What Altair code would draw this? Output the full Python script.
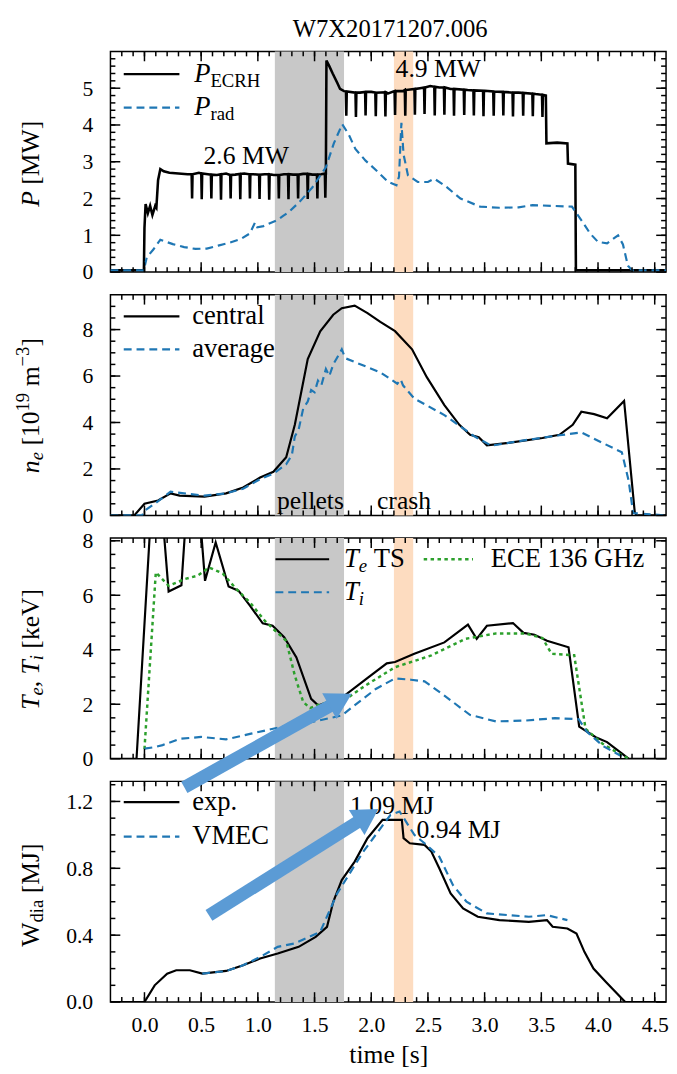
import altair as alt
import pandas as pd

FONT = "Liberation Serif"
W, H = 564, 224
X_DOMAIN = [-0.3, 4.6]
BLUE = "#1f77b4"
GREEN = "#2ca02c"
ARROW = "#5b9bd5"

shot_label = "W7X20171207.006"

# shaded intervals: pellets, crash
band_start = [1.15, 2.20]
band_end = [1.76, 2.37]
band_fill = ["#c8c8c8", "#fddcc0"]

x_major = [0.0, 0.5, 1.0, 1.5, 2.0, 2.5, 3.0, 3.5, 4.0, 4.5]
x_minor = [round(-0.2 + 0.1 * i, 1) for i in range(48)]

# ---------------- panel 1: power ----------------
ecrh_t = [-0.30, -0.005, 0.000, 0.010, 0.030, 0.050, 0.070, 0.095, 0.105, 0.120, 0.140, 0.170, 0.220,
          0.300, 0.380, 0.480, 0.560, 0.640, 0.720, 0.800, 0.880, 0.960, 1.060, 1.140, 1.230, 1.310,
          1.400, 1.480, 1.560, 1.600, 1.605, 1.630, 1.660, 1.700, 1.725, 1.760, 1.900, 2.000, 2.150,
          2.280, 2.430, 2.520, 2.600, 2.700, 2.850, 3.000, 3.150, 3.300, 3.450, 3.540, 3.545, 3.640,
          3.730, 3.735, 3.800, 3.805, 4.60]
ecrh_p = [0.05, 0.05, 1.20, 1.85, 1.60, 1.80, 1.55, 1.80, 1.75, 2.50, 2.80, 2.74, 2.70,
          2.68, 2.66, 2.70, 2.66, 2.64, 2.68, 2.65, 2.68, 2.66, 2.66, 2.64, 2.66, 2.65,
          2.67, 2.65, 2.66, 2.68, 5.75, 5.60, 5.40, 5.15, 4.98, 4.92, 4.88, 4.90, 4.86,
          4.92, 5.00, 5.06, 5.02, 4.98, 4.95, 4.93, 4.90, 4.88, 4.84, 4.80, 3.50, 3.52,
          3.50, 2.95, 2.92, 0.05, 0.05]
ecrh_spike_t = [0.42, 0.505, 0.59, 0.675, 0.76, 0.845, 0.93, 1.015, 1.10, 1.185, 1.27, 1.355, 1.44, 1.525, 1.595,
                1.78, 1.865, 1.95, 2.04, 2.125, 2.21, 2.30, 2.385, 2.47, 2.56, 2.645, 2.73, 2.82, 2.905,
                2.99, 3.08, 3.165, 3.25, 3.34, 3.425, 3.51]
ecrh_spike_top = [2.66, 2.68, 2.65, 2.66, 2.64, 2.67, 2.66, 2.65, 2.66, 2.64, 2.66, 2.65, 2.67, 2.65, 2.68,
                  4.91, 4.88, 4.90, 4.88, 4.89, 4.92, 4.95, 4.98, 5.02, 5.04, 5.02, 4.98, 4.96, 4.94,
                  4.93, 4.91, 4.90, 4.88, 4.87, 4.85, 4.82]
ecrh_spike_low = [2.0, 1.98, 2.0, 1.97, 2.0, 1.98, 2.0, 1.99, 1.97, 2.0, 1.98, 2.0, 1.99, 2.0, 2.02,
                  4.25, 4.22, 4.26, 4.24, 4.23, 4.27, 4.25, 4.28, 4.30, 4.26, 4.28, 4.25, 4.27, 4.26,
                  4.24, 4.25, 4.26, 4.23, 4.25, 4.24, 4.22]

prad_t = [-0.30, -0.005, 0.02, 0.08, 0.14, 0.25, 0.35, 0.45, 0.55, 0.65, 0.75, 0.85, 0.93, 0.975, 0.995,
          1.05, 1.175, 1.22, 1.28, 1.38, 1.48, 1.60, 1.67, 1.744, 1.80, 1.86, 1.95, 2.05, 2.15, 2.222,
          2.245, 2.266, 2.285, 2.324, 2.41, 2.50, 2.556, 2.65, 2.787, 2.96, 3.13, 3.30, 3.42, 3.60,
          3.77, 3.86, 3.93, 4.00, 4.08, 4.177, 4.22, 4.264, 4.30, 4.60]
prad_p = [0.05, 0.05, 0.40, 0.62, 0.88, 0.76, 0.68, 0.63, 0.64, 0.72, 0.80, 0.90, 1.05, 1.35, 1.22,
          1.25, 1.42, 1.52, 1.65, 1.95, 2.30, 2.85, 3.50, 4.02, 3.75, 3.35, 3.03, 2.75, 2.45, 2.36,
          2.60, 4.06, 3.20, 2.63, 2.45, 2.45, 2.54, 2.35, 2.00, 1.78, 1.75, 1.76, 1.82, 1.80,
          1.78, 1.38, 1.05, 0.82, 0.78, 1.00, 0.75, 0.17, 0.05, 0.05]

power_note_t = [0.897, 2.591]
power_note_v = [3.16, 5.51]
power_note_text = ["2.6 MW", "4.9 MW"]

# ---------------- panel 2: density ----------------
nc_t = [-0.30, -0.09, 0.00, 0.12, 0.23, 0.31, 0.53, 0.72, 0.87, 1.02, 1.137, 1.25, 1.326, 1.44, 1.55,
        1.665, 1.74, 1.854, 1.967, 2.08, 2.21, 2.36, 2.49, 2.645, 2.777, 2.872, 2.948, 3.02, 3.21,
        3.51, 3.66, 3.777, 3.853, 3.966, 4.08, 4.23, 4.324, 4.34, 4.60]
nc_v = [0.0, 0.0, 0.50, 0.64, 0.95, 0.85, 0.81, 0.95, 1.20, 1.63, 1.88, 2.50, 3.90, 6.73, 7.93,
        8.64, 8.92, 9.03, 8.71, 8.33, 7.93, 7.15, 5.95, 4.75, 3.90, 3.47, 3.37, 3.02, 3.12,
        3.33, 3.47, 3.90, 4.46, 4.36, 4.18, 4.93, 0.14, 0.0, 0.0]
na_t = [-0.30, -0.02, 0.00, 0.09, 0.23, 0.53, 0.72, 0.87, 1.02, 1.137, 1.25, 1.30, 1.326, 1.36, 1.40,
        1.44, 1.47, 1.50, 1.53, 1.56, 1.60, 1.63, 1.665, 1.70, 1.74, 1.76, 1.78, 2.08, 2.23, 2.26,
        2.28, 2.38, 2.645, 2.91, 3.06, 3.29, 3.66, 3.853, 4.04, 4.21, 4.27, 4.31, 4.60]
na_v = [0.0, 0.0, 0.20, 0.50, 1.02, 0.85, 0.95, 1.15, 1.56, 1.80, 2.20, 2.60, 3.40, 3.70, 4.60,
        4.90, 5.40, 5.30, 5.80, 5.60, 6.30, 6.00, 6.50, 6.80, 7.15, 6.90, 6.75, 6.16, 5.67, 5.85,
        5.60, 5.03, 4.32, 3.40, 3.00, 3.19, 3.45, 3.57, 3.12, 2.72, 1.50, 0.10, 0.0]
dens_note_t = [1.464, 2.289]
dens_note_v = [0.63, 0.63]
dens_note_text = ["pellets", "crash"]

# ---------------- panel 3: temperatures ----------------
te_t = [-0.30, -0.07, 0.10, 0.213, 0.326, 0.40, 0.45, 0.534, 0.628, 0.742, 0.829, 0.93, 1.043, 1.13,
        1.232, 1.34, 1.47, 1.533, 1.759, 1.948, 2.137, 2.21, 2.38, 2.645, 2.853, 2.93, 3.02, 3.25,
        3.343, 3.44, 3.55, 3.74, 3.834, 3.98, 4.08, 4.27, 4.60]
te_v = [0.0, 0.0, 12.0, 6.14, 6.37, 11.0, 11.0, 6.53, 7.94, 6.32, 6.17, 5.62, 4.97, 4.88,
        4.46, 3.72, 2.20, 1.95, 2.30, 2.90, 3.50, 3.55, 3.85, 4.27, 4.92, 4.40, 4.88, 4.98,
        4.62, 4.55, 4.33, 4.09, 1.18, 0.79, 0.61, 0.0, 0.0]
ece_t = [0.00, 0.10, 0.213, 0.36, 0.47, 0.571, 0.69, 0.81, 0.93, 1.06, 1.137, 1.25, 1.326, 1.40,
         1.46, 1.55, 1.78, 1.95, 2.21, 2.53, 2.83, 3.10, 3.36, 3.51, 3.59, 3.79, 3.89, 4.04, 4.19, 4.27]
ece_v = [0.35, 6.84, 6.35, 6.60, 6.72, 7.02, 6.80, 6.23, 5.74, 5.07, 4.76, 4.33, 3.05, 2.08,
         1.86, 2.00, 2.20, 2.69, 3.36, 3.79, 4.40, 4.60, 4.60, 4.43, 3.85, 3.80, 1.10, 0.55, 0.18, 0.0]
ti_t = [0.00, 0.08, 0.16, 0.31, 0.50, 0.72, 0.94, 1.20, 1.47, 1.74, 1.89, 2.04, 2.21, 2.35, 2.47,
        2.645, 2.87, 3.10, 3.36, 3.62, 3.83, 3.90, 4.05, 4.25]
ti_v = [0.37, 0.42, 0.50, 0.73, 0.80, 0.71, 0.92, 1.16, 1.34, 1.59, 2.08, 2.56, 2.95, 2.90, 2.84,
        2.32, 1.61, 1.37, 1.40, 1.49, 1.45, 1.00, 0.45, 0.0]

# ---------------- panel 4: stored energy ----------------
wexp_t = [-0.30, 0.00, 0.09, 0.20, 0.28, 0.40, 0.51, 0.72, 0.87, 1.02, 1.175, 1.36, 1.51, 1.61, 1.665,
          1.74, 1.854, 1.967, 2.10, 2.27, 2.285, 2.34, 2.47, 2.53, 2.60, 2.70, 2.81, 2.94, 3.13, 3.39,
          3.55, 3.60, 3.73, 3.81, 3.88, 3.96, 4.07, 4.24, 4.60]
wexp_v = [0.0, 0.0, 0.10, 0.17, 0.19, 0.19, 0.17, 0.186, 0.22, 0.26, 0.29, 0.33, 0.39, 0.45, 0.60,
          0.73, 0.84, 0.98, 1.09, 1.09, 0.98, 0.95, 0.94, 0.90, 0.80, 0.65, 0.56, 0.51, 0.49, 0.48,
          0.49, 0.45, 0.44, 0.41, 0.30, 0.20, 0.12, 0.0, 0.0]
vmec_t = [0.51, 0.72, 0.87, 1.02, 1.175, 1.32, 1.55, 1.70, 1.93, 2.17, 2.25, 2.38, 2.47, 2.60, 2.72,
          2.84, 3.02, 3.21, 3.39, 3.55, 3.73]
vmec_v = [0.17, 0.185, 0.22, 0.27, 0.33, 0.35, 0.42, 0.65, 0.90, 1.12, 1.14, 1.00, 0.95, 0.87, 0.70,
          0.60, 0.53, 0.52, 0.51, 0.52, 0.49]
energy_note_t = [2.184, 2.769]
energy_note_v = [1.17, 1.026]
energy_note_text = ["1.09 MJ", "0.94 MJ"]

# ---------------- helpers ----------------
one = pd.DataFrame({"k": [0]})
bands = pd.DataFrame({"start": band_start, "end": band_end, "fill": band_fill})

CW = {" ": .25, "[": .333, "]": .333, "M": .889, "W": .944, "P": .556, "E": .611, "C": .667,
      "R": .667, "H": .722, "r": .333, "a": .444, "d": .5, ".": .25, "m": .778, "\u2212": .564,
      "k": .5, "e": .444, "V": .722, "J": .389, "i": .278, ",": .25, "T": .611, "S": .556,
      "G": .722, "z": .444, "c": .444, "n": .5, "t": .278, "l": .278, "v": .5, "g": .5, "x": .5, "p": .5}
CWI = {"P": .611, "n": .5, "e": .444, "T": .556, "i": .278, "W": .833}

BIG = 26
LEG = 27
SUB = 19
TITLE_X = -73
MAJ, MIN = 10, 5
TICK_W = 1.5


def tw(s, size, italic=False):
    tab = CWI if italic else CW
    return sum(tab.get(c, CW.get(c, .5)) for c in s) * size


def rich(pieces, x, y, angle=0, center=False):
    widths = [tw(s, sz, st == "italic") for s, sz, st, dy in pieces]
    off = -sum(widths) / 2 if center else 0
    out = []
    for (s, sz, st, dy), w in zip(pieces, widths):
        lead = len(s) - len(s.lstrip())
        out.append(alt.Chart(one).mark_text(
            text=s.strip(), font=FONT, fontSize=sz, fontStyle=st, align="left",
            baseline="alphabetic", angle=angle, dx=off + lead * CW[" "] * sz, dy=dy, color="black"
        ).encode(x=alt.value(x), y=alt.value(y)))
        off += w
    return out


def legend_line(x1, x2, y, color, width=2.0, dash=None):
    kw = dict(color=color, strokeWidth=width)
    if dash:
        kw["strokeDash"] = dash
    return alt.Chart(one).mark_rule(**kw).encode(
        x=alt.value(x1), x2=alt.value(x2), y=alt.value(y))


def tick_layers(xs, ys, ydom, y_major, y_minor):
    """Inward ticks on all four sides, built like the shaded bands (thin rects)."""
    out = []
    hx = TICK_W / 2 * (X_DOMAIN[1] - X_DOMAIN[0]) / W
    hy = TICK_W / 2 * (ydom[1] - ydom[0]) / H
    for vals, size in ((x_major, MAJ), (x_minor, MIN)):
        df = pd.DataFrame({"start": [v - hx for v in vals], "end": [v + hx for v in vals],
                           "fill": ["black"] * len(vals)})
        for y0, y1 in ((H - size, H), (0, size)):
            out.append(alt.Chart(df).mark_rect().encode(
                x=alt.X("start:Q", scale=xs, axis=None), x2="end:Q",
                y=alt.value(y0), y2=alt.value(y1), color=alt.Color("fill:N", scale=None)))
    for vals, size in ((y_major, MAJ), (y_minor, MIN)):
        df = pd.DataFrame({"lo": [v - hy for v in vals], "hi": [v + hy for v in vals],
                           "fill": ["black"] * len(vals)})
        for x0, x1 in ((0, size), (W - size, W)):
            out.append(alt.Chart(df).mark_rect().encode(
                y=alt.Y("lo:Q", scale=ys, axis=None), y2="hi:Q",
                x=alt.value(x0), x2=alt.value(x1), color=alt.Color("fill:N", scale=None)))
    return out


def panel(series, ydom, y_major, y_minor, y_labels, y_fmt, extras, x_labels=False):
    xs = alt.Scale(domain=X_DOMAIN, nice=False, zero=False)
    ys = alt.Scale(domain=ydom, nice=False, zero=False)
    layers = [alt.Chart(bands).mark_rect().encode(
        x=alt.X("start:Q", scale=xs, axis=None), x2="end:Q",
        y=alt.value(0), y2=alt.value(H), color=alt.Color("fill:N", scale=None))]
    for df, color, width, dash in series:
        kw = dict(color=color, strokeWidth=width, clip=True)
        if dash:
            kw["strokeDash"] = dash
        layers.append(alt.Chart(df).mark_line(**kw).encode(
            x=alt.X("t:Q", scale=xs, axis=None), y=alt.Y("v:Q", scale=ys, axis=None),
            order="o:Q"))

    layers += tick_layers(xs, ys, ydom, y_major, y_minor)

    xa = None
    if x_labels:
        xa = alt.Axis(orient="bottom", values=x_major, format=".1f", ticks=False, tickSize=0,
                      domain=False, grid=False, labelFont=FONT, labelFontSize=22, labelColor="black",
                      labelPadding=13, labelFlush=False, labelOverlap=False,
                      title="time [s]", titleFont=FONT, titleFontSize=26, titleFontWeight="normal",
                      titleColor="black", titlePadding=6)
    ya = alt.Axis(orient="left", values=y_labels, format=y_fmt, ticks=False, tickSize=0, domain=False,
                  grid=False, labelFont=FONT, labelFontSize=22, labelColor="black", labelPadding=18,
                  labelFlush=False, labelOverlap=False, title=None)
    layers.append(alt.Chart(series[0][0]).mark_line(opacity=0).encode(
        x=alt.X("t:Q", scale=xs, axis=xa), y=alt.Y("v:Q", scale=ys, axis=ya)))

    for e in extras:
        if isinstance(e, tuple):
            df, = e
            layers.append(alt.Chart(df).mark_text(font=FONT, fontSize=BIG, color="black",
                                                  align="center", baseline="middle").encode(
                x=alt.X("t:Q", scale=xs, axis=None), y=alt.Y("v:Q", scale=ys, axis=None),
                text="label:N"))
        else:
            layers.append(e)
    return alt.layer(*layers).resolve_axis(x="independent", y="independent").properties(
        width=W, height=H)


def sdf(t, v):
    return pd.DataFrame({"t": t, "v": v, "o": list(range(len(t)))})


def notes(t, v, labels):
    return (pd.DataFrame({"t": t, "v": v, "label": labels}),)


# ECRH trace with modulation dips
pts = list(zip(ecrh_t, ecrh_p))
for t, top, low in zip(ecrh_spike_t, ecrh_spike_top, ecrh_spike_low):
    pts += [(t - 0.004, top), (t, low), (t + 0.004, top)]
pts.sort()
ecrh_df = sdf([p[0] for p in pts], [p[1] for p in pts])

# ---------------- panel 1 ----------------
p1_extras = [
    legend_line(13.5, 70, 23, "black", 2.4),
    legend_line(13.5, 70, 57, BLUE, 2.2, [8, 5]),
    *rich([("P", LEG, "italic", 0), ("ECRH", SUB, "normal", 5)], 85, 31),
    *rich([("P", LEG, "italic", 0), ("rad", SUB, "normal", 5)], 85, 65),
    notes(power_note_t, power_note_v, power_note_text),
    alt.Chart(one).mark_text(text=shot_label, font=FONT, fontSize=25, color="black",
                             align="center", baseline="middle").encode(
        x=alt.value(W / 2 + 2), y=alt.value(-23)),
    *rich([("P", BIG, "italic", 0), (" [MW]", BIG, "normal", 0)], TITLE_X, 114, angle=270, center=True),
]
p1 = panel([(ecrh_df, "black", 2.6, None), (sdf(prad_t, prad_p), BLUE, 2.2, [8, 5])],
           [0, 6.0], [0, 1, 2, 3, 4, 5], [round(0.2 * i, 1) for i in range(1, 30)],
           [0, 1, 2, 3, 4, 5], "d", p1_extras)

# ---------------- panel 2 ----------------
p2_extras = [
    legend_line(13.5, 70, 22, "black", 2.2),
    legend_line(13.5, 70, 55.5, BLUE, 2.2, [8, 5]),
    *rich([("central", LEG, "normal", 0)], 83, 30),
    *rich([("average", LEG, "normal", 0)], 83, 63),
    notes(dens_note_t, dens_note_v, dens_note_text),
    *rich([("n", BIG, "italic", 0), ("e", SUB, "italic", 5), (" [10", BIG, "normal", 0),
           ("19", SUB, "normal", -10), (" m", BIG, "normal", 0), ("\u22123", SUB, "normal", -10),
           ("]", BIG, "normal", 0)], TITLE_X, 112.5, angle=270, center=True),
]
p2 = panel([(sdf(nc_t, nc_v), "black", 2.2, None), (sdf(na_t, na_v), BLUE, 2.2, [8, 5])],
           [0, 9.5], [0, 2, 4, 6, 8], [0.5 * i for i in range(1, 19)], [0, 2, 4, 6, 8], "d", p2_extras)

# ---------------- panel 3 ----------------
p3_extras = [
    legend_line(167.5, 222, 21.5, "black", 2.2),
    legend_line(167.5, 222, 55, BLUE, 2.2, [8, 5]),
    legend_line(318, 368, 21.5, GREEN, 2.5, [3.5, 3.5]),
    *rich([("T", LEG, "italic", 0), ("e", SUB, "italic", 5), (" TS", LEG, "normal", 0)], 237, 29),
    *rich([("T", LEG, "italic", 0), ("i", SUB, "italic", 5)], 237, 63),
    *rich([("ECE 136 GHz", LEG, "normal", 0)], 386, 29),
    *rich([("T", BIG, "italic", 0), ("e", SUB, "italic", 5), (", ", BIG, "normal", 0),
           ("T", BIG, "italic", 0), ("i", SUB, "italic", 5), (" [keV]", BIG, "normal", 0)],
          TITLE_X, 113, angle=270, center=True),
]
p3 = panel([(sdf(te_t, te_v), "black", 2.2, None), (sdf(ece_t, ece_v), GREEN, 2.5, [3.5, 3.5]),
            (sdf(ti_t, ti_v), BLUE, 2.2, [8, 5])],
           [0, 8.1], [0, 2, 4, 6, 8], [0.5 * i for i in range(1, 17)], [0, 2, 4, 6, 8], "d", p3_extras)


# ---------------- panel 4 ----------------
def arrow(tx, ty, ex, ey, hx, hy, ang):
    shaft = alt.Chart(one).mark_rule(color=ARROW, strokeWidth=13, strokeCap="butt").encode(
        x=alt.value(tx), y=alt.value(ty), x2=alt.value(ex), y2=alt.value(ey))
    head = alt.Chart(one).mark_point(shape="M -1 -1.15 L 1 0 L -1 1.15 Z", filled=True, size=676,
                                     color=ARROW, opacity=1, angle=ang, strokeWidth=0).encode(
        x=alt.value(hx), y=alt.value(hy))
    return [shaft, head]


p4_extras = [
    legend_line(13.5, 70, 21, "black", 2.2),
    legend_line(13.5, 70, 56, BLUE, 2.2, [8, 5]),
    *rich([("exp.", LEG, "normal", 0)], 83, 29),
    *rich([("VMEC", LEG, "normal", 0)], 83, 64),
    notes(energy_note_t, energy_note_v, energy_note_text),
    *rich([("W", BIG, "normal", 0), ("dia", SUB, "normal", 5), (" [MJ]", BIG, "normal", 0)],
          TITLE_X, 115.5, angle=270, center=True),
    *arrow(75, 6, 227.5, -79.2, 233.6, -82.7, 330.8),
    *arrow(100, 136, 255.1, 38.6, 261.0, 34.9, 327.9),
]
p4 = panel([(sdf(wexp_t, wexp_v), "black", 2.2, None), (sdf(vmec_t, vmec_v), BLUE, 2.2, [8, 5])],
           [0, 1.32], [0.0, 0.4, 0.8, 1.2], [round(0.1 * i, 1) for i in range(1, 14)],
           [0.0, 0.4, 0.8, 1.2], ".1f", p4_extras, x_labels=True)

chart = alt.vconcat(p1, p2, p3, p4, spacing=23, bounds="flush").properties(
    padding={"left": 5, "top": 0, "right": 0, "bottom": 0}
).configure_view(stroke="black", strokeWidth=1.5)

chart.save("out.html", embed_options={"renderer": "svg", "actions": False})
